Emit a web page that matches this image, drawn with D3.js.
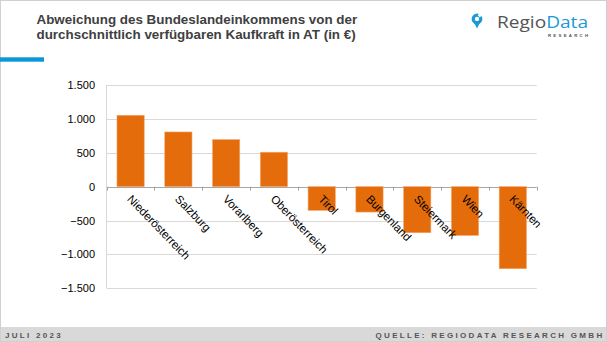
<!DOCTYPE html>
<html><head><meta charset="utf-8">
<script src="https://cdn.jsdelivr.net/npm/d3@7"></script>
<style>body{margin:0;background:#fff}svg{display:block;font-family:"Liberation Sans",Arial,sans-serif}</style>
</head><body><svg id="c" width="607" height="342"></svg>
<script>
const categories = ["Niederösterreich","Salzburg","Vorarlberg","Oberösterreich","Tirol","Burgenland","Steiermark","Wien","Kärnten"];
const values = [1053, 807, 694, 508, -350, -375, -680, -720, -1211];
const yTicks = [1500, 1000, 500, 0, -500, -1000, -1500];
const titleLines = ["Abweichung des Bundeslandeinkommens von der","durchschnittlich verfügbaren Kaufkraft in AT (in €)"];

const svg = d3.select("#c");
const fmt = v => d3.format(",")(v).replace(/,/g, ".");

// frame
svg.append("rect").attr("x",0.5).attr("y",0.5).attr("width",606).attr("height",341).attr("fill","#fff").attr("stroke","#d0d0d0");

// title
svg.append("g").selectAll("text").data(titleLines).join("text")
  .attr("x",36.5).attr("y",(d,i)=>24.3+i*15)
  .attr("font-size",13.4).attr("font-weight","bold").attr("fill","#404040").text(d=>d);
svg.append("rect").attr("x",0).attr("y",57.3).attr("width",44).attr("height",4.4).attr("fill","#0a96d8");

// logo
const lg = svg.append("g");
lg.append("circle").attr("cx",477).attr("cy",19).attr("r",3.8).attr("fill","none").attr("stroke","#1a9ad6").attr("stroke-width",3.2);
lg.append("path").attr("d","M473.2,21 L477,28.5 L480.8,21 Z").attr("fill","#1a9ad6");
lg.append("rect").attr("x",478.3).attr("y",13.8).attr("width",3).attr("height",3).attr("fill","#fff").attr("transform","rotate(45,479.8,15.3)");
const lt = lg.append("text").attr("x",497).attr("y",27.5).attr("font-size",17).attr("font-family","'Open Sans',sans-serif")
  .attr("textLength",91).attr("lengthAdjust","spacingAndGlyphs");
lt.append("tspan").attr("fill","#555").text("Regio");
lt.append("tspan").attr("fill","#1a9ad6").text("Data");
lg.append("text").attr("x",548).attr("y",37).attr("font-size",4.3).attr("font-weight","bold")
  .attr("textLength",40).attr("lengthAdjust","spacing").attr("fill","#555").text("RESEARCH");

// footer
svg.append("rect").attr("x",1).attr("y",327).attr("width",605).attr("height",14).attr("fill","#d9d9d9");
svg.append("text").attr("x",5).attr("y",338).attr("font-size",8).attr("font-weight","bold").attr("letter-spacing",2.3).attr("fill","#555").text("JULI 2023");
svg.append("text").attr("x",604.5).attr("y",338).attr("text-anchor","end").attr("font-size",8).attr("font-weight","bold").attr("letter-spacing",2.3).attr("fill","#555").text("QUELLE: REGIODATA RESEARCH GMBH");

// chart
const x = d3.scaleBand().domain(categories).range([106.7,536.7]).paddingInner(0.43).paddingOuter(0.215);
const xb = d3.scaleBand().domain(categories).range([106.7,536.7]);
const y = d3.scaleLinear().domain([-1500,1500]).range([288.3,85]);

const g = svg.append("g");
g.selectAll("line.grid").data(yTicks).join("line")
  .attr("x1",106.7).attr("x2",536.7).attr("y1",d=>Math.round(y(d))+0.5).attr("y2",d=>Math.round(y(d))+0.5)
  .attr("stroke",d=>d===0?"#a6a6a6":"#d9d9d9").attr("stroke-width",1);
g.append("line").attr("x1",106.5).attr("x2",106.5).attr("y1",y(1500)).attr("y2",y(-1500)).attr("stroke","#d9d9d9");
g.selectAll("text.yl").data(yTicks).join("text")
  .attr("x",95).attr("y",d=>y(d)+4).attr("text-anchor","end").attr("font-size",11).attr("fill","#000").text(fmt);

g.selectAll("rect.bar").data(values).join("rect")
  .attr("x",(d,i)=>x(categories[i])).attr("width",x.bandwidth())
  .attr("y",d=>y(Math.max(0,d))).attr("height",d=>Math.abs(y(d)-y(0)))
  .attr("fill","#e46c0a").attr("stroke","#f3a66b").attr("stroke-width",0.6);

// category ticks
const bounds = categories.map(c=>xb(c)+xb.bandwidth()).concat([xb(categories[0])]);
g.selectAll("line.tk").data(bounds).join("line")
  .attr("x1",d=>Math.round(d)+0.5).attr("x2",d=>Math.round(d)+0.5).attr("y1",y(0)).attr("y2",y(0)+4).attr("stroke","#a6a6a6");

g.selectAll("text.xl").data(categories).join("text")
  .attr("transform",c=>`translate(${xb(c)+xb.bandwidth()/2-4},${y(0)+13}) rotate(46)`)
  .attr("font-size",11.5).attr("fill","#000").text(c=>c);
</script></body></html>
